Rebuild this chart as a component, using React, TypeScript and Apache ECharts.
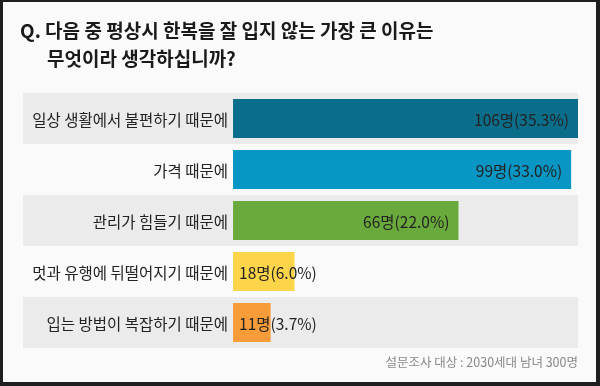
import React, { useEffect, useRef } from "react";
import * as echarts from "echarts";

const categories = [
  "일상 생활에서 불편하기 때문에",
  "가격 때문에",
  "관리가 힘들기 때문에",
  "멋과 유행에 뒤떨어지기 때문에",
  "입는 방법이 복잡하기 때문에",
];
const counts = [106, 99, 66, 18, 11];
const percents = ["35.3", "33.0", "22.0", "6.0", "3.7"];
const barColors = ["#0a6e8a", "#0896c4", "#6aaa3c", "#fdd54a", "#f89c3a"];
const titleLine1 = "Q. 다음 중 평상시 한복을 잘 입지 않는 가장 큰 이유는";
const titleLine2 = "무엇이라 생각하십니까?";
const footnote = "설문조사 대상 : 2030세대 남녀 300명";

const FONT = '"Noto Sans CJK KR", "Noto Sans", sans-serif';

export default function App() {
  const ref = useRef<HTMLDivElement>(null);
  useEffect(() => {
    if (!ref.current) return;
    const chart = echarts.init(ref.current, undefined, { renderer: "svg" });
    chart.setOption({
      animation: false,
      textStyle: { fontFamily: FONT },
      graphic: [
        { type: "rect", z: -10, shape: { x: 0, y: 0, width: 600, height: 386 }, style: { fill: "#1e1e1e" }, silent: true },
        { type: "rect", z: -9, shape: { x: 3, y: 2, width: 593, height: 380 }, style: { fill: "#fafafa" }, silent: true },
        {
          type: "text", left: 20, top: 20,
          style: { text: titleLine1, fontSize: 19, fontWeight: "bold", fill: "#1a1a1a", fontFamily: FONT },
        },
        {
          type: "text", left: 47, top: 48,
          style: { text: titleLine2, fontSize: 19, fontWeight: "bold", fill: "#1a1a1a", fontFamily: FONT },
        },
        {
          type: "text", right: 22, top: 355,
          style: { text: footnote, fontSize: 12.5, fill: "#888", fontFamily: FONT },
        },
      ],
      grid: { left: 23, right: 22, top: 93, bottom: 38, containLabel: false },
      xAxis: {
        type: "value",
        min: -61.5,
        max: 101,
        show: false,
        splitLine: { show: false },
      },
      yAxis: {
        type: "category",
        data: categories,
        inverse: true,
        axisLine: { show: false },
        axisTick: { show: false },
        splitLine: { show: false },
        splitArea: { show: true, areaStyle: { color: ["#ebebeb", "rgba(0,0,0,0)"] } },
        axisLabel: {
          inside: true,
          margin: 205,
          align: "right",
          fontSize: 15.5,
          color: "#222",
          fontFamily: FONT,
        },
      },
      series: [
        {
          type: "bar",
          clip: true,
          barWidth: 39,
          data: counts.map((v, i) => ({
            value: v,
            itemStyle: { color: barColors[i] },
            label: {
              show: true,
              position: v > 40 ? "insideRight" : "insideLeft",
              distance: v > 40 ? 9 : 6,
              formatter: () => `${v}명(${percents[i]}%)`,
              fontSize: 15.5,
              color: "#222",
              fontFamily: FONT,
            },
          })),
        },
      ],
    });
    return () => chart.dispose();
  }, []);
  return (
    <div
      ref={ref}
      style={{ position: "fixed", left: 0, top: 0, width: 600, height: 386 }}
    />
  );
}
